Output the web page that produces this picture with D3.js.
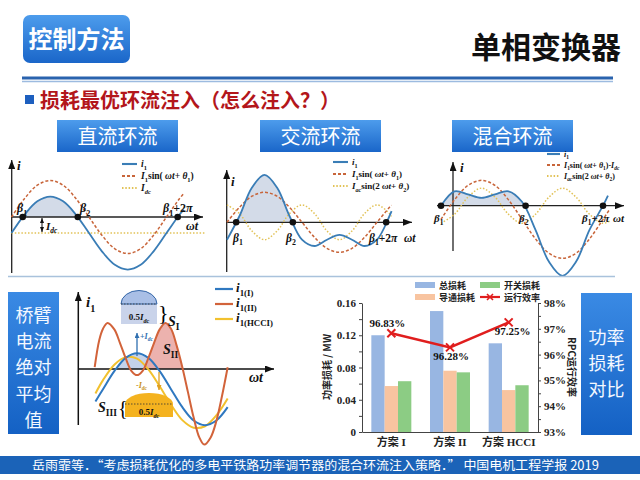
<!DOCTYPE html>
<html>
<head>
<meta charset="utf-8">
<script src="https://cdn.jsdelivr.net/npm/d3@7"></script>
<style>
  body { margin: 0; background: #fff; }
  svg { display: block; }
</style>
</head>
<body>
<svg id="chart" width="640" height="480"></svg>
<script>
// ---- bar chart values ----
const schemes = ["方案 I", "方案 II", "方案 HCCI"];
const totalLoss = [0.120, 0.150, 0.110];
const condLoss = [0.057, 0.076, 0.052];
const switchLoss = [0.063, 0.074, 0.058];
const efficiency = [0.9683, 0.9628, 0.9725];
const lossTicks = [0, 0.02, 0.04, 0.06, 0.08, 0.10, 0.12, 0.14, 0.16];
const effTicks = [0.93, 0.935, 0.94, 0.945, 0.95, 0.955, 0.96, 0.965, 0.97, 0.975, 0.98];

// ---- waveforms, [phase in degrees, amplitude in units of I1] ----
const dcI1 = [[0,-0.44],[30,0.06],[60,0.43],[90,0.56],[120,0.43],[150,0.06],[180,-0.44],[210,-0.94],[240,-1.31],[270,-1.44],[300,-1.31],[330,-0.94],[360,-0.44],[390,0.06],[400,0.2]];
const dcFund = [[0,0],[30,0.5],[60,0.87],[90,1],[120,0.87],[150,0.5],[180,0],[210,-0.5],[240,-0.87],[270,-1],[300,-0.87],[330,-0.5],[360,0],[390,0.5],[400,0.64]];
const dcLevel = [[0,-0.44],[450,-0.44]];
const dcBeta = [26, 154, 386];

const acI1 = [[0,-0.58],[30,0.21],[60,1.16],[90,1.58],[120,1.16],[150,0.21],[180,-0.58],[210,-0.79],[240,-0.58],[270,-0.42],[300,-0.58],[330,-0.79],[360,-0.58],[390,0.21],[395,0.37]];
const acFund = [[0,0],[30,0.5],[60,0.87],[90,1],[120,0.87],[150,0.5],[180,0],[210,-0.5],[240,-0.87],[270,-1],[300,-0.87],[330,-0.5],[360,0],[390,0.5],[395,0.57]];
const acSecond = [[0,0.58],[30,0.29],[60,-0.29],[90,-0.58],[120,-0.29],[150,0.29],[180,0.58],[210,0.29],[240,-0.29],[270,-0.58],[300,-0.29],[330,0.29],[360,0.58],[390,0.29],[395,0.2]];
const acBeta = [22, 158, 382];

const hyI1 = [[0,0],[30,0.37],[60,0.29],[90,0.2],[120,0.29],[150,0.37],[180,0.1],[210,-0.62],[240,-1.44],[270,-1.8],[300,-1.44],[330,-0.62],[360,0],[371,0.26]];
const hyFund = [[0,-0.35],[30,0.15],[60,0.52],[90,0.65],[120,0.52],[150,0.15],[180,-0.35],[210,-0.85],[240,-1.22],[270,-1.35],[300,-1.22],[330,-0.85],[360,-0.35],[375,-0.09]];
const hySecond = [[0,-0.45],[30,-0.22],[60,0.22],[90,0.45],[120,0.22],[150,-0.22],[180,-0.45],[210,-0.22],[240,0.22],[270,0.45],[300,0.22],[330,-0.22],[360,-0.45],[375,-0.39]];
const hyBeta = [0, 188, 360];

// bridge arm currents
const armI = [[-20,-0.9],[0,-0.56],[30,-0.06],[60,0.31],[90,0.44],[120,0.31],[150,-0.06],[180,-0.56],[210,-1.06],[240,-1.43],[270,-1.56],[300,-1.43],[330,-1.06]];
const armII = [[-22,0.05],[-10,0.8],[0,1.12],[12,1.28],[30,1.1],[45,0.72],[60,0.3],[75,-0.05],[90,-0.17],[105,-0.05],[120,0.3],[135,0.72],[150,1.1],[165,1.28],[180,1.12],[195,0.65],[210,0.05],[225,-0.65],[240,-1.35],[255,-1.9],[268,-2.1],[285,-1.9],[300,-1.45],[315,-0.75],[330,0.05]];
const armHCCI = [[-20,-0.68],[0,-0.31],[30,0.12],[60,0.33],[90,0.29],[120,-0.01],[150,-0.48],[180,-0.99],[210,-1.42],[240,-1.63],[270,-1.59],[300,-1.29],[330,-0.82]];

const CJK = '"Noto Sans CJK SC", "Noto Sans", sans-serif';
const SERIF = '"Liberation Serif", "DejaVu Serif", serif';
const BLUE = "#3a7db6", ORANGE = "#c8653a", YELLOW = "#e2c257";

const svg = d3.select("#chart");
const defs = svg.append("defs");

function grad(id, c1, c2) {
  const lg = defs.append("linearGradient").attr("id", id)
    .attr("x1", 0).attr("y1", 0).attr("x2", 0).attr("y2", 1);
  lg.append("stop").attr("offset", "0%").attr("stop-color", c1);
  lg.append("stop").attr("offset", "100%").attr("stop-color", c2);
}
grad("boxGrad", "#4d9cec", "#1a66c9");
grad("sideGrad", "#3a8ae4", "#1461c4");

function marker(id, color, w, h) {
  defs.append("marker").attr("id", id)
    .attr("markerUnits", "userSpaceOnUse")
    .attr("markerWidth", w).attr("markerHeight", h)
    .attr("refX", w).attr("refY", h / 2).attr("orient", "auto-start-reverse")
    .append("path").attr("d", `M0,0L${w},${h / 2}L0,${h}Z`).attr("fill", color);
}
marker("arr", "#111", 9, 7);
marker("arrS", "#111", 5, 4);
marker("arrB", "#2f6fb0", 5, 5);
marker("arrY", "#e0a020", 5, 5);

// text with italic / subscript parts
function mathLabel(parent, x, y, parts, size, anchor, color) {
  const t = parent.append("text").attr("x", x).attr("y", y)
    .attr("font-family", SERIF).attr("font-weight", "bold")
    .attr("font-size", size).attr("fill", color || "#111")
    .attr("text-anchor", anchor || "start");
  let shift = 0;
  parts.forEach(([str, kind]) => {
    const sp = t.append("tspan").text(str);
    const sub = kind === "s" || kind === "si";
    const target = sub ? size * 0.3 : 0;
    if (target !== shift) { sp.attr("dy", target - shift); shift = target; }
    if (sub) sp.attr("font-size", size * 0.68);
    if (kind === "i" || kind === "si") sp.attr("font-style", "italic");
  });
  return t;
}

// ---------- header ----------
svg.append("rect").attr("x", 23).attr("y", 15).attr("width", 107).attr("height", 48)
  .attr("rx", 7).attr("fill", "url(#boxGrad)");
svg.append("text").attr("x", 76.5).attr("y", 48).attr("text-anchor", "middle")
  .attr("font-family", CJK).attr("font-weight", "bold").attr("font-size", 24)
  .attr("fill", "#fff").text("控制方法");
svg.append("text").attr("x", 621).attr("y", 58).attr("text-anchor", "end")
  .attr("font-family", CJK).attr("font-weight", "bold").attr("font-size", 30)
  .attr("fill", "#111").text("单相变换器");
svg.append("line").attr("x1", 22).attr("x2", 613).attr("y1", 78).attr("y2", 78)
  .attr("stroke", "#2a63ae").attr("stroke-width", 3);
svg.append("line").attr("x1", 22).attr("x2", 613).attr("y1", 81.5).attr("y2", 81.5)
  .attr("stroke", "#9dbbe0").attr("stroke-width", 1.5);
svg.append("rect").attr("x", 25).attr("y", 95).attr("width", 9).attr("height", 9).attr("fill", "#1d5fbf");
svg.append("text").attr("x", 40).attr("y", 108)
  .attr("font-family", CJK).attr("font-weight", "bold").attr("font-size", 20)
  .attr("fill", "#b3161b").text("损耗最优环流注入（怎么注入？）");

// section headings
[["直流环流", 57], ["交流环流", 260], ["混合环流", 452]].forEach(([name, x]) => {
  svg.append("rect").attr("x", x).attr("y", 120).attr("width", 121).attr("height", 32)
    .attr("fill", "url(#boxGrad)");
  svg.append("text").attr("x", x + 60.5).attr("y", 143.5).attr("text-anchor", "middle")
    .attr("font-family", CJK).attr("font-size", 20).attr("fill", "#fff").text(name);
});

// ---------- waveform panels ----------
const curve = d3.curveCatmullRom.alpha(0.5);

function wavePanel(cfg) {
  const g = svg.append("g");
  const x = d3.scaleLinear([0, 360], cfg.xr);
  const y = d3.scaleLinear([-1, 1], cfg.yr);
  const y0 = y(0);
  const line = d3.line().x(d => x(d[0])).y(d => y(d[1])).curve(curve);
  const area = d3.area().x(d => x(d[0])).y0(y0).y1(d => y(d[1])).curve(curve);

  const clipId = cfg.id + "Clip";
  defs.append("clipPath").attr("id", clipId).append("rect")
    .attr("x", x(cfg.beta[0])).attr("y", 0)
    .attr("width", x(cfg.beta[1]) - x(cfg.beta[0])).attr("height", y0);
  g.append("path").datum(cfg.main).attr("clip-path", `url(#${clipId})`)
    .attr("fill", "#d3dbe8").attr("d", area);

  // axes
  g.append("line").attr("x1", cfg.xAxis[0]).attr("x2", cfg.xAxis[1]).attr("y1", y0).attr("y2", y0)
    .attr("stroke", "#222").attr("stroke-width", 1.3).attr("marker-end", "url(#arr)");
  g.append("line").attr("x1", cfg.yAxis[0]).attr("x2", cfg.yAxis[0])
    .attr("y1", cfg.yAxis[2]).attr("y2", cfg.yAxis[1])
    .attr("stroke", "#222").attr("stroke-width", 1.3).attr("marker-end", "url(#arr)");

  cfg.curves.forEach(c => {
    g.append("path").datum(c.data).attr("fill", "none")
      .attr("stroke", c.color).attr("stroke-width", c.w)
      .attr("stroke-dasharray", c.dash || null).attr("d", line);
  });

  g.selectAll("circle.beta").data(cfg.beta).join("circle").attr("class", "beta")
    .attr("cx", d => x(d)).attr("cy", y0).attr("r", 3.3).attr("fill", "#111");

  const lb = cfg.labels, fs = cfg.labelSize || 12;
  mathLabel(g, lb.b1[0], lb.b1[1], [["β", "i"], ["1", "s"]], fs);
  mathLabel(g, lb.b2[0], lb.b2[1], [["β", "i"], ["2", "s"]], fs);
  mathLabel(g, lb.b3[0], lb.b3[1], [["β", "i"], ["1", "s"], ["+2", "n"], ["π", "i"]], fs);
  mathLabel(g, lb.wt[0], lb.wt[1], [["ωt", "i"]], fs);
  mathLabel(g, lb.i[0], lb.i[1], [["i", "i"]], 13);

  // legend
  cfg.legend.rows.forEach((r, k) => {
    const ly = cfg.legend.y[k];
    const c = cfg.curves[cfg.curves.length - 1 - k];
    g.append("line").attr("x1", cfg.legend.x).attr("x2", cfg.legend.x + cfg.legend.len)
      .attr("y1", ly).attr("y2", ly).attr("stroke", c.color).attr("stroke-width", c.w + 0.3)
      .attr("stroke-dasharray", c.dash || null);
    mathLabel(g, cfg.legend.x + cfg.legend.len + 4, ly + 3, r, cfg.legend.size);
  });
  return { g, x, y };
}

const legI1 = [["i", "i"], ["1", "s"]];
const legFund = [["I", "i"], ["1", "s"], ["sin( ", "n"], ["ωt", "i"], ["+ ", "n"], ["θ", "i"], ["1", "s"], [")", "n"]];
const legSecond = [["I", "i"], ["ac", "si"], ["sin(2 ", "n"], ["ωt", "i"], ["+ ", "n"], ["θ", "i"], ["2", "s"], [")", "n"]];

const p1 = wavePanel({
  id: "dc", xr: [11.5, 166.5], yr: [253.5, 180.5], main: dcI1, beta: dcBeta,
  xAxis: [11.7, 203], yAxis: [11.7, 160, 273],
  curves: [
    { data: dcLevel, color: YELLOW, w: 1.5, dash: "1.5 1.8" },
    { data: dcFund, color: ORANGE, w: 1.5, dash: "3 2" },
    { data: dcI1, color: BLUE, w: 1.8 }
  ],
  labels: { b1: [17, 212], b2: [80, 212], b3: [163, 212], wt: [186, 230], i: [17, 170] },
  legend: { x: 122, len: 15, y: [164, 176, 188], size: 9.5,
    rows: [legI1, legFund, [["I", "i"], ["dc", "si"]]] }
});
// Idc marker
p1.g.append("line").attr("x1", 42).attr("x2", 42).attr("y1", p1.y(0) + 1).attr("y2", p1.y(-0.44) - 1)
  .attr("stroke", "#111").attr("stroke-width", 1)
  .attr("marker-start", "url(#arrS)").attr("marker-end", "url(#arrS)");
mathLabel(p1.g, 46, 230, [["I", "i"], ["dc", "si"]], 11);

wavePanel({
  id: "ac", xr: [227, 377], yr: [252.3, 192.3], main: acI1, beta: acBeta,
  xAxis: [226.7, 412], yAxis: [226.7, 170, 272],
  curves: [
    { data: acSecond, color: YELLOW, w: 1.5, dash: "1.5 1.8" },
    { data: acFund, color: ORANGE, w: 1.5, dash: "3 2" },
    { data: acI1, color: BLUE, w: 1.8 }
  ],
  labels: { b1: [233, 242], b2: [286, 242], b3: [369, 242], wt: [404, 242], i: [231, 186] },
  labelSize: 11.5,
  legend: { x: 333, len: 15, y: [162, 174, 186], size: 9,
    rows: [legI1, legFund, legSecond] }
});

wavePanel({
  id: "hy", xr: [441, 603], yr: [244.7, 166.7], main: hyI1, beta: hyBeta,
  xAxis: [437, 624], yAxis: [453, 162, 251],
  curves: [
    { data: hySecond, color: YELLOW, w: 1.5, dash: "1.5 1.8" },
    { data: hyFund, color: ORANGE, w: 1.5, dash: "3 2" },
    { data: hyI1, color: BLUE, w: 1.8 }
  ],
  labels: { b1: [434, 222], b2: [519, 222], b3: [582, 222], wt: [613, 222], i: [460, 172] },
  labelSize: 11,
  legend: { x: 547, len: 13, y: [154, 165, 176], size: 8,
    rows: [legI1, [["I", "i"], ["1", "s"], ["sin( ", "n"], ["ωt", "i"], ["+ ", "n"], ["θ", "i"], ["1", "s"], [")-", "n"], ["I", "i"], ["dc", "si"]], legSecond] }
});

// separator
svg.append("line").attr("x1", 8).attr("x2", 615).attr("y1", 276.5).attr("y2", 276.5)
  .attr("stroke", "#a9c2dc").attr("stroke-width", 1.5);

// ---------- side boxes ----------
function sideBox(x, y, w, h, rows, firstY, step) {
  svg.append("rect").attr("x", x).attr("y", y).attr("width", w).attr("height", h)
    .attr("fill", "url(#sideGrad)");
  const t = svg.append("text").attr("text-anchor", "middle")
    .attr("font-family", CJK).attr("font-size", 18).attr("fill", "#f4f8ff");
  rows.forEach((r, k) => {
    t.append("tspan").attr("x", x + w / 2).attr("y", firstY + k * step).text(r);
  });
}
sideBox(8, 292, 51, 142, ["桥臂", "电流", "绝对", "平均", "值"], 322, 26.2);
sideBox(581, 293, 51, 142, ["功率", "损耗", "对比"], 344, 26.2);

// ---------- bridge-arm current sketch ----------
{
  const g = svg.append("g");
  const x = d3.scaleLinear([0, 360], [103, 239]);
  const y = d3.scaleLinear([-1, 1], [405, 333]);
  const y0 = y(0);
  const line = d3.line().x(d => x(d[0])).y(d => y(d[1])).curve(curve);
  const area = d3.area().x(d => x(d[0])).y0(y0).y1(d => y(d[1])).curve(curve);

  defs.append("clipPath").attr("id", "armBlueClip").append("rect")
    .attr("x", 110).attr("y", 0).attr("width", 55).attr("height", y0);
  defs.append("clipPath").attr("id", "armRedClip").append("rect")
    .attr("x", 139).attr("y", 0).attr("width", 46).attr("height", y0);
  g.append("path").datum(armI).attr("clip-path", "url(#armBlueClip)").attr("fill", "#c4d2ea").attr("d", area);
  g.append("path").datum(armII).attr("clip-path", "url(#armRedClip)").attr("fill", "#e9a5a0").attr("opacity", 0.85).attr("d", area);

  g.append("line").attr("x1", 78.3).attr("x2", 274).attr("y1", y0).attr("y2", y0)
    .attr("stroke", "#111").attr("stroke-width", 1.5).attr("marker-end", "url(#arr)");
  g.append("line").attr("x1", 78.3).attr("x2", 78.3).attr("y1", 425).attr("y2", 292)
    .attr("stroke", "#111").attr("stroke-width", 1.5).attr("marker-end", "url(#arr)");
  mathLabel(g, 86, 307, [["i", "i"], ["1", "s"]], 15);
  mathLabel(g, 249, 382, [["ωt", "i"]], 14);

  const armSeries = [
    { data: armHCCI, color: "#f2c12e", name: [["i", "i"], ["1(HCCI)", "s"]] },
    { data: armI, color: "#2f78c0", name: [["i", "i"], ["1(I)", "s"]] },
    { data: armII, color: "#d2633a", name: [["i", "i"], ["1(II)", "s"]] }
  ];
  armSeries.forEach(s => {
    g.append("path").datum(s.data).attr("fill", "none").attr("stroke", s.color)
      .attr("stroke-width", 2).attr("d", line);
  });
  [armSeries[1], armSeries[2], armSeries[0]].forEach((s, k) => {
    const ly = [289, 304, 319][k];
    g.append("line").attr("x1", 215).attr("x2", 233).attr("y1", ly).attr("y2", ly)
      .attr("stroke", s.color).attr("stroke-width", 2.2);
    mathLabel(g, 236, ly + 3, s.name, 13);
  });

  // S_I dome
  g.append("path").attr("d", "M121,304 A18,13.5 0 0 1 157,304 L157,324 L121,324 Z").attr("fill", "#c9d3ea");
  g.append("path").attr("d", "M121,304 A18,13.5 0 0 1 157,304 Z").attr("fill", "#a9bfe6")
    .attr("stroke", "#3567a8").attr("stroke-width", 1);
  g.append("line").attr("x1", 121).attr("x2", 157).attr("y1", 304).attr("y2", 304)
    .attr("stroke", "#333").attr("stroke-width", 0.8).attr("stroke-dasharray", "1.5 1.5");
  mathLabel(g, 139, 320, [["0.5", "n"], ["I", "i"], ["dc", "si"]], 9, "middle");
  g.append("text").attr("x", 158).attr("y", 320).attr("font-family", SERIF).attr("font-size", 22).text("}");
  mathLabel(g, 168, 326, [["S", "i"], ["I", "s"]], 14);
  mathLabel(g, 163, 354, [["S", "i"], ["II", "s"]], 14);

  // S_III dome
  g.append("path").attr("d", "M125,404 A24,11 0 0 1 173,404 L173,417 L125,417 Z").attr("fill", "#f4b21f");
  g.append("line").attr("x1", 125).attr("x2", 173).attr("y1", 404).attr("y2", 404)
    .attr("stroke", "#333").attr("stroke-width", 0.8).attr("stroke-dasharray", "1.5 1.5");
  mathLabel(g, 149, 415, [["0.5", "n"], ["I", "i"], ["dc", "si"]], 9, "middle");
  g.append("text").attr("x", 118).attr("y", 415).attr("font-family", SERIF).attr("font-size", 20).text("{");
  mathLabel(g, 98, 412, [["S", "i"], ["III", "s"]], 14);

  // +Idc / -Idc arrows
  g.append("line").attr("x1", 137).attr("x2", 137).attr("y1", 356).attr("y2", 333)
    .attr("stroke", "#2f6fb0").attr("stroke-width", 1.3).attr("marker-end", "url(#arrB)");
  mathLabel(g, 140, 339, [["+", "n"], ["I", "i"], ["dc", "si"]], 8, "start", "#2f6fb0");
  g.append("line").attr("x1", 159).attr("x2", 159).attr("y1", 372).attr("y2", 390)
    .attr("stroke", "#e0a020").attr("stroke-width", 1.3).attr("marker-end", "url(#arrY)");
  mathLabel(g, 136, 388, [["-", "n"], ["I", "i"], ["dc", "si"]], 8, "start", "#c89020");
}

// ---------- loss comparison bar chart ----------
{
  const g = svg.append("g");
  const x0 = d3.scaleBand().domain(schemes).range([362, 538]).padding(0);
  const keys = ["total", "cond", "switch"];
  const x1 = d3.scaleBand().domain(keys).range([0, 40]);
  const off = (x0.bandwidth() - 40) / 2;
  const yL = d3.scaleLinear([0, 0.16], [432, 303]);
  const yR = d3.scaleLinear([0.93, 0.98], [432, 303]);
  const colors = { total: "#98b6e2", cond: "#f8c4a0", switch: "#8ccc84" };
  const vals = { total: totalLoss, cond: condLoss, switch: switchLoss };

  schemes.forEach((s, i) => {
    keys.forEach(k => {
      g.append("rect").attr("x", x0(s) + off + x1(k)).attr("width", x1.bandwidth())
        .attr("y", yL(vals[k][i])).attr("height", yL(0) - yL(vals[k][i]))
        .attr("fill", colors[k]);
    });
  });

  const styleAxis = sel => {
    sel.selectAll("path,line").attr("stroke", "#444");
    sel.selectAll("text").attr("font-family", SERIF + ', "Noto Sans CJK SC"').attr("font-weight", "bold")
      .attr("font-size", 11).attr("fill", "#222");
  };
  g.append("g").attr("transform", "translate(362,0)")
    .call(d3.axisLeft(yL).tickValues(lossTicks).tickSize(3).tickSizeOuter(0)
      .tickFormat(d => Math.round(d * 100) % 4 === 0 ? (d === 0 ? "0" : d.toFixed(2)) : ""))
    .call(styleAxis);
  g.append("g").attr("transform", "translate(538,0)")
    .call(d3.axisRight(yR).tickValues(effTicks).tickSize(3).tickSizeOuter(0)
      .tickFormat(d => Math.round(d * 1000) % 10 === 0 ? d3.format(".0%")(d) : ""))
    .call(styleAxis);
  g.append("g").attr("transform", "translate(0,432)")
    .call(d3.axisBottom(x0).tickSize(0).tickPadding(6))
    .call(styleAxis);

  const pts = schemes.map((s, i) => [x0(s) + x0.bandwidth() / 2, yR(efficiency[i])]);
  g.append("path").datum(pts).attr("fill", "none").attr("stroke", "#e01e1e").attr("stroke-width", 2.5)
    .attr("d", d3.line());
  const xMark = (cx, cy, r) => `M${cx - r},${cy - r}L${cx + r},${cy + r}M${cx - r},${cy + r}L${cx + r},${cy - r}`;
  pts.forEach(p => {
    g.append("path").attr("d", xMark(p[0], p[1], 4)).attr("stroke", "#e01e1e").attr("stroke-width", 2);
  });
  const labOff = [[-4, -6], [1, 13], [4, 13]];
  pts.forEach((p, i) => {
    g.append("text").attr("x", p[0] + labOff[i][0]).attr("y", p[1] + labOff[i][1])
      .attr("text-anchor", "middle").attr("font-family", SERIF).attr("font-weight", "bold")
      .attr("font-size", 11).attr("fill", "#111").text(d3.format(".2%")(efficiency[i]));
  });

  // legend
  const leg = [
    { name: "总损耗", key: "total", x: 415, y: 285 },
    { name: "开关损耗", key: "switch", x: 480, y: 285 },
    { name: "导通损耗", key: "cond", x: 415, y: 297 },
    { name: "运行效率", key: "eff", x: 480, y: 297 }
  ];
  leg.forEach(l => {
    if (l.key === "eff") {
      g.append("line").attr("x1", l.x).attr("x2", l.x + 20).attr("y1", l.y).attr("y2", l.y)
        .attr("stroke", "#e01e1e").attr("stroke-width", 2.2);
      g.append("path").attr("d", xMark(l.x + 10, l.y, 3)).attr("stroke", "#e01e1e").attr("stroke-width", 1.6);
    } else {
      g.append("rect").attr("x", l.x).attr("y", l.y - 3).attr("width", 20).attr("height", 6)
        .attr("fill", colors[l.key]);
    }
    g.append("text").attr("x", l.x + 24).attr("y", l.y + 3.5)
      .attr("font-family", CJK).attr("font-weight", "bold").attr("font-size", 9)
      .attr("fill", "#222").text(l.name);
  });

  g.append("text").attr("transform", "translate(331,367) rotate(-90)").attr("text-anchor", "middle")
    .attr("font-family", CJK).attr("font-weight", "bold").attr("font-size", 10).attr("fill", "#222")
    .text("功率损耗 / MW");
  g.append("text").attr("transform", "translate(568,367) rotate(90)").attr("text-anchor", "middle")
    .attr("font-family", CJK).attr("font-weight", "bold").attr("font-size", 10).attr("fill", "#222")
    .text("RPC运行效率");
}

// ---------- footer ----------
svg.append("rect").attr("x", 0).attr("y", 456).attr("width", 640).attr("height", 18).attr("fill", "#1b63b8");
svg.append("text").attr("x", 32).attr("y", 469.5)
  .attr("font-family", CJK).attr("font-size", 12.5).attr("fill", "#fff")
  .attr("textLength", 567).attr("lengthAdjust", "spacingAndGlyphs")
  .text("岳雨霏等．“考虑损耗优化的多电平铁路功率调节器的混合环流注入策略．” 中国电机工程学报 2019");
</script>
</body>
</html>
